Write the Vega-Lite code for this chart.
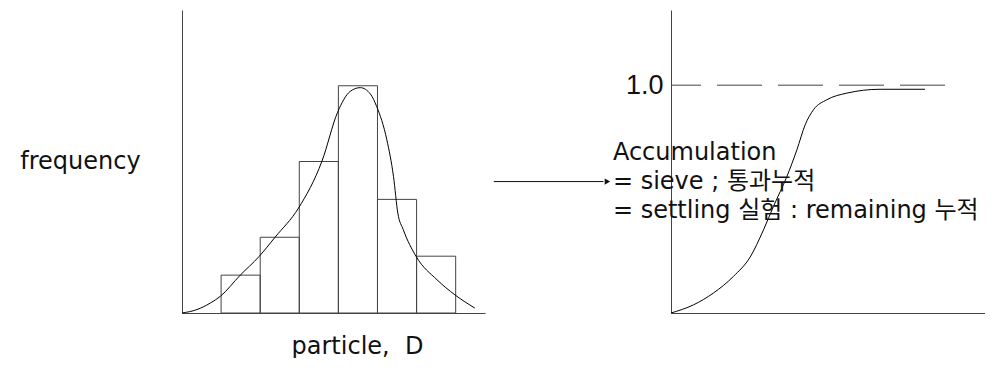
{
  "$schema": "https://vega.github.io/schema/vega-lite/v6.json",
  "padding": {"left": 19, "top": 10, "right": 0, "bottom": 0},
  "background": "white",
  "bounds": "flush",
  "spacing": 186,
  "config": {
    "view": {"stroke": null},
    "font": "DejaVu Sans",
    "axis": {
      "grid": false,
      "ticks": false,
      "labels": false,
      "domainColor": "#444",
      "domainWidth": 1,
      "titleFont": "DejaVu Sans",
      "titleFontWeight": "normal",
      "titleFontSize": 24,
      "titleColor": "#111",
      "labelFont": "DejaVu Sans"
    }
  },
  "datasets": {
    "histogram": [
      {"D_from": 1, "D_to": 2, "frequency": 1},
      {"D_from": 2, "D_to": 3, "frequency": 2},
      {"D_from": 3, "D_to": 4, "frequency": 4},
      {"D_from": 4, "D_to": 5, "frequency": 6},
      {"D_from": 5, "D_to": 6, "frequency": 3},
      {"D_from": 6, "D_to": 7, "frequency": 1.5}
    ],
    "density": [
      {"D": 0, "frequency": 0},
      {"D": 0.38, "frequency": 0.09},
      {"D": 0.72, "frequency": 0.26},
      {"D": 0.98, "frequency": 0.44},
      {"D": 1.49, "frequency": 1.0},
      {"D": 1.97, "frequency": 1.49},
      {"D": 2.38, "frequency": 2.0},
      {"D": 2.98, "frequency": 2.77},
      {"D": 3.58, "frequency": 4.01},
      {"D": 3.98, "frequency": 5.3},
      {"D": 4.3, "frequency": 5.85},
      {"D": 4.56, "frequency": 5.95},
      {"D": 4.82, "frequency": 5.78},
      {"D": 4.98, "frequency": 5.45},
      {"D": 5.24, "frequency": 4.57},
      {"D": 5.41, "frequency": 3.6},
      {"D": 5.52, "frequency": 2.64},
      {"D": 5.66, "frequency": 2.2},
      {"D": 5.99, "frequency": 1.49},
      {"D": 6.52, "frequency": 0.88},
      {"D": 6.98, "frequency": 0.48},
      {"D": 7.49, "frequency": 0.13}
    ],
    "cumulative": [
      {"D": 0, "fraction": 0},
      {"D": 0.575, "fraction": 0.036},
      {"D": 1.084, "fraction": 0.088},
      {"D": 1.593, "fraction": 0.161},
      {"D": 2.018, "fraction": 0.246},
      {"D": 2.357, "fraction": 0.365},
      {"D": 2.611, "fraction": 0.468},
      {"D": 2.952, "fraction": 0.599},
      {"D": 3.207, "fraction": 0.716},
      {"D": 3.418, "fraction": 0.826},
      {"D": 3.629, "fraction": 0.892},
      {"D": 3.97, "fraction": 0.936},
      {"D": 4.479, "fraction": 0.965},
      {"D": 5.327, "fraction": 0.982},
      {"D": 6.47, "fraction": 0.982}
    ]
  },
  "hconcat": [
    {
      "width": 303,
      "height": 303,
      "layer": [
        {
          "data": {"name": "histogram"},
          "mark": {"type": "rect", "fill": "white", "fillOpacity": 0, "stroke": "#444", "strokeWidth": 1},
          "encoding": {
            "x": {"field": "D_from", "type": "quantitative", "scale": {"domain": [0, 7.75]},
              "axis": {"title": "particle,\u00a0\u00a0D", "titleX": 175, "titleY": 40, "titleAlign": "center", "titleBaseline": "alphabetic"}},
            "x2": {"field": "D_to"},
            "y": {"field": "frequency", "type": "quantitative", "scale": {"domain": [0, 8]},
              "axis": {"title": "frequency", "titleAngle": 0, "titleX": -102, "titleY": 158, "titleAlign": "center", "titleBaseline": "alphabetic"}},
            "y2": {"datum": 0}
          }
        },
        {
          "data": {"name": "density"},
          "mark": {"type": "line", "interpolate": "monotone", "color": "#000", "strokeWidth": 1},
          "encoding": {
            "x": {"field": "D", "type": "quantitative", "scale": {"domain": [0, 7.75]},
              "axis": {"title": "particle,\u00a0\u00a0D", "titleX": 175, "titleY": 40, "titleAlign": "center", "titleBaseline": "alphabetic"}},
            "y": {"field": "frequency", "type": "quantitative", "scale": {"domain": [0, 8]},
              "axis": {"title": "frequency", "titleAngle": 0, "titleX": -102, "titleY": 158, "titleAlign": "center", "titleBaseline": "alphabetic"}}
          }
        }
      ]
    },
    {
      "width": 314,
      "height": 303,
      "layer": [
        {
          "data": {"name": "cumulative"},
          "mark": {"type": "line", "interpolate": "monotone", "color": "#000", "strokeWidth": 1},
          "encoding": {
            "x": {"field": "D", "type": "quantitative", "scale": {"domain": [0, 8]}, "axis": {"title": null}},
            "y": {"field": "fraction", "type": "quantitative", "scale": {"domain": [0, 1.33]},
              "axis": {"title": null, "labels": true, "values": [1], "format": ".1f", "labelFont": "Liberation Sans", "labelFontSize": 27, "labelPadding": 8, "labelColor": "#111"}}
          }
        },
        {
          "data": {"values": [{}]},
          "mark": {"type": "rule", "strokeDash": [45, 16], "strokeDashOffset": 15, "color": "#444", "strokeWidth": 1},
          "encoding": {
            "x": {"datum": 0, "type": "quantitative", "scale": {"domain": [0, 8]}},
            "x2": {"datum": 7},
            "y": {"datum": 1, "type": "quantitative", "scale": {"domain": [0, 1.33]}}
          }
        },
        {
          "data": {"values": [{}]},
          "mark": {"type": "rule", "color": "#111", "strokeWidth": 1, "clip": false},
          "encoding": {
            "x": {"datum": -4.515, "type": "quantitative", "scale": {"domain": [0, 8]}},
            "x2": {"datum": -1.72},
            "y": {"datum": 0.577, "type": "quantitative", "scale": {"domain": [0, 1.33]}}
          }
        },
        {
          "data": {"values": [{}]},
          "mark": {"type": "point", "shape": "triangle-right", "filled": true, "size": 40, "color": "#111", "opacity": 1, "clip": false},
          "encoding": {
            "x": {"datum": -1.62, "type": "quantitative", "scale": {"domain": [0, 8]}},
            "y": {"datum": 0.577, "type": "quantitative", "scale": {"domain": [0, 1.33]}}
          }
        },
        {
          "data": {"values": [{}]},
          "mark": {"type": "text", "text": ["Accumulation", "= sieve ; 통과누적", "= settling 실험 : remaining 누적"], "align": "left", "baseline": "alphabetic", "fontSize": 24, "lineHeight": 29, "font": "DejaVu Sans, Noto Sans CJK KR", "color": "#111", "clip": false},
          "encoding": {
            "x": {"datum": -1.48, "type": "quantitative", "scale": {"domain": [0, 8]}},
            "y": {"datum": 0.672, "type": "quantitative", "scale": {"domain": [0, 1.33]}}
          }
        }
      ]
    }
  ]
}
